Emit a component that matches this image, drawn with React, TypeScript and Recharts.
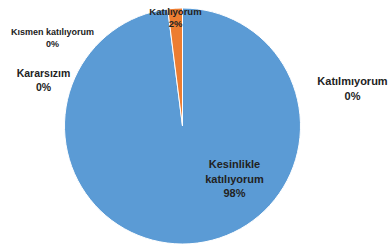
import React from 'react';
import { PieChart, Pie, Cell } from 'recharts';

const categories = ['Kesinlikle katılıyorum', 'Katılıyorum', 'Kısmen katılıyorum', 'Kararsızım', 'Katılmıyorum'];
const values = [98, 2, 0, 0, 0];
const percentLabels = ['98%', '2%', '0%', '0%', '0%'];
const labelLines = [['Kesinlikle', 'katılıyorum'], ['Katılıyorum'], ['Kısmen katılıyorum'], ['Kararsızım'], ['Katılmıyorum']];

const colors = ['#5B9BD5', '#ED7D31', '#A5A5A5', '#FFC000', '#4472C4'];

// label anchor offsets relative to the pie centre, plus font size per label
const labelLayout = [
  { dx: 52, dy: 38, size: 11 },
  { dx: -7, dy: -115, size: 9.5 },
  { dx: -130, dy: -94, size: 9 },
  { dx: -139, dy: -53, size: 10.5 },
  { dx: 170, dy: -45, size: 11 },
];

const data = categories.map((name, i) => ({ name, value: values[i] }));

const renderLabel = (props: any) => {
  const { cx, cy, index } = props;
  const l = labelLayout[index];
  const lines = [...labelLines[index], percentLabels[index]];
  const step = l.size * 1.32;
  return (
    <text
      key={`lbl-${index}`}
      x={cx + l.dx}
      y={cy + l.dy}
      textAnchor="middle"
      fill="#222"
      fontSize={l.size}
      fontWeight="bold"
      fontFamily="'Liberation Sans', Arial, sans-serif"
    >
      {lines.map((t, j) => (
        <tspan key={j} x={cx + l.dx} y={cy + l.dy + j * step} dominantBaseline="central">
          {t}
        </tspan>
      ))}
    </text>
  );
};

export default function App() {
  return (
    <div style={{ position: 'absolute', left: 0, top: 0, width: 389, height: 244, background: '#fff' }}>
      <PieChart width={389} height={244} margin={{ top: 0, right: 0, bottom: 0, left: 0 }}>
        <Pie
          data={data}
          dataKey="value"
          nameKey="name"
          cx={182.5}
          cy={126}
          outerRadius={118}
          startAngle={90}
          endAngle={-270}
          stroke="#fff"
          strokeWidth={1}
          label={renderLabel}
          labelLine={false}
          isAnimationActive={false}
        >
          {data.map((d, i) => (
            <Cell key={d.name} fill={colors[i]} />
          ))}
        </Pie>
      </PieChart>
    </div>
  );
}
